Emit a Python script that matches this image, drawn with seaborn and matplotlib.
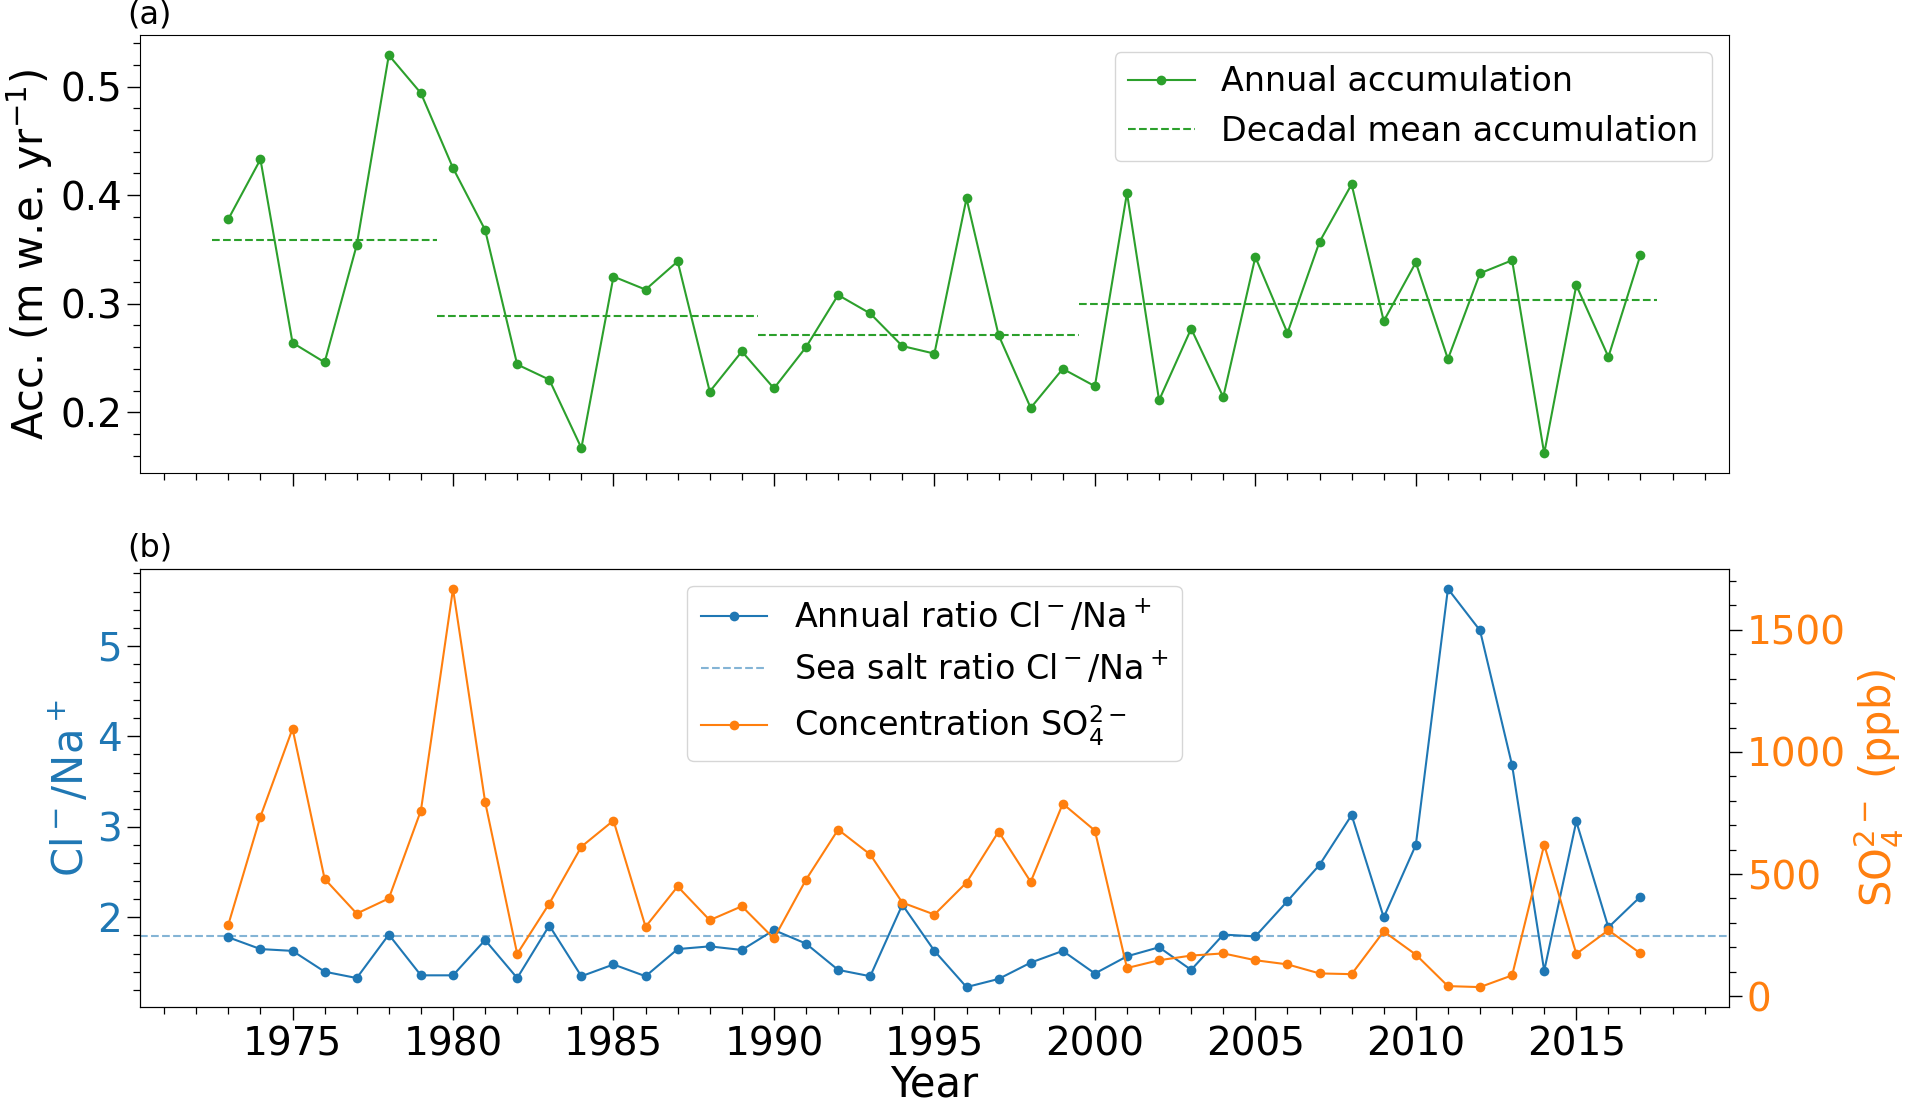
import numpy as np
import pandas as pd
import matplotlib
matplotlib.use("Agg")
import matplotlib.pyplot as plt
from matplotlib.ticker import MultipleLocator
import seaborn as sns

# ---------------- data ----------------
years = list(range(1973, 2018))

accumulation = [0.378, 0.433, 0.264, 0.246, 0.354, 0.529, 0.494, 0.425, 0.368, 0.244,
                0.230, 0.167, 0.325, 0.313, 0.339, 0.219, 0.256, 0.222, 0.260, 0.308,
                0.291, 0.261, 0.254, 0.397, 0.271, 0.204, 0.240, 0.224, 0.402, 0.211,
                0.277, 0.214, 0.343, 0.273, 0.357, 0.410, 0.284, 0.338, 0.249, 0.328,
                0.340, 0.162, 0.317, 0.251, 0.345]

decade_start = [1972.5, 1979.5, 1989.5, 1999.5, 2009.5]
decade_end = [1979.5, 1989.5, 1999.5, 2009.5, 2017.5]
decade_mean = [0.359, 0.289, 0.271, 0.300, 0.303]

cl_na_ratio = [1.78, 1.65, 1.63, 1.40, 1.33, 1.81, 1.36, 1.36, 1.75, 1.33,
               1.91, 1.35, 1.48, 1.35, 1.65, 1.68, 1.64, 1.86, 1.71, 1.42,
               1.35, 2.14, 1.63, 1.23, 1.32, 1.50, 1.63, 1.38, 1.57, 1.67,
               1.42, 1.81, 1.79, 2.18, 2.58, 3.13, 2.00, 2.80, 5.63, 5.17,
               3.68, 1.41, 3.06, 1.89, 2.23]

sea_salt_ratio = 1.79

so4_ppb = [293, 735, 1095, 480, 338, 400, 760, 1668, 796, 173,
           379, 612, 719, 284, 449, 311, 368, 236, 477, 682,
           580, 383, 334, 465, 674, 468, 788, 678, 115, 147,
           166, 175, 147, 130, 93, 90, 265, 170, 41, 37,
           85, 620, 173, 270, 175]

df = pd.DataFrame({"year": years, "acc": accumulation,
                   "ratio": cl_na_ratio, "so4": so4_ppb})

# ---------------- figure ----------------
plt.rcParams["font.family"] = ["DejaVu Sans"]
FS_LEG = 24
FS_TICK = 28
FS_LAB = 30

fig, (ax1, ax2) = plt.subplots(2, 1, figsize=(19.06, 11.02), dpi=100, sharex=True)
fig.subplots_adjust(left=0.0735, right=0.907, top=0.968, bottom=0.0862, hspace=0.218)

green = "tab:green"
blue = "tab:blue"
orange = "tab:orange"

# ---- panel (a) ----
sns.lineplot(data=df, x="year", y="acc", ax=ax1, color=green, marker="o",
             markersize=7, markeredgewidth=0, linewidth=1.5,
             label="Annual accumulation")
ax1.hlines(decade_mean, decade_start, decade_end, colors=green,
           linestyles="--", linewidth=1.5, label="Decadal mean accumulation")
ax1.set_ylabel("Acc. (m w.e. yr$^{-1}$)", fontsize=FS_LAB)
ax1.set_xlabel("")
ax1.yaxis.set_major_locator(MultipleLocator(0.1))
ax1.yaxis.set_minor_locator(MultipleLocator(0.02))
ax1.legend(loc="upper right", fontsize=FS_LEG)
ax1.text(-0.008, 1.012, "(a)", transform=ax1.transAxes, ha="left", va="bottom", fontsize=23)

# ---- panel (b) ----
sns.lineplot(data=df, x="year", y="ratio", ax=ax2, color=blue, marker="o",
             markersize=7, markeredgewidth=0, linewidth=1.5,
             label="Annual ratio Cl$^-$/Na$^+$", legend=False)
ax2.axhline(sea_salt_ratio, color=blue, alpha=0.55, linestyle="--",
            linewidth=1.5, label="Sea salt ratio Cl$^-$/Na$^+$")
ax2.set_ylabel("Cl$^-$/Na$^+$", fontsize=FS_LAB, color=blue)
ax2.set_xlabel("Year", fontsize=FS_LAB, labelpad=0)
ax2.yaxis.set_major_locator(MultipleLocator(1))
ax2.yaxis.set_minor_locator(MultipleLocator(0.2))
ax2.tick_params(axis="y", labelcolor=blue)

ax3 = ax2.twinx()
sns.lineplot(data=df, x="year", y="so4", ax=ax3, color=orange, marker="o",
             markersize=7, markeredgewidth=0, linewidth=1.5,
             label="Concentration SO$_4^{2-}$", legend=False)
ax3.set_ylabel("SO$_4^{2-}$ (ppb)", fontsize=FS_LAB, color=orange)
ax3.yaxis.set_major_locator(MultipleLocator(500))
ax3.yaxis.set_minor_locator(MultipleLocator(100))
ax3.tick_params(axis="y", labelcolor=orange)

h2, l2 = ax2.get_legend_handles_labels()
h3, l3 = ax3.get_legend_handles_labels()
ax3.legend(h2 + h3, l2 + l3, loc="upper center", fontsize=FS_LEG)
ax2.text(-0.008, 1.012, "(b)", transform=ax2.transAxes, ha="left", va="bottom", fontsize=23)

ax2.xaxis.set_major_locator(MultipleLocator(5))
ax2.xaxis.set_minor_locator(MultipleLocator(1))

for ax in (ax1, ax2, ax3):
    ax.tick_params(which="major", length=9.5, width=1, labelsize=FS_TICK)
    ax.tick_params(which="minor", length=5, width=0.9)
ax1.tick_params(axis="x", labelbottom=False)

fig.savefig("out.png", dpi=100)
